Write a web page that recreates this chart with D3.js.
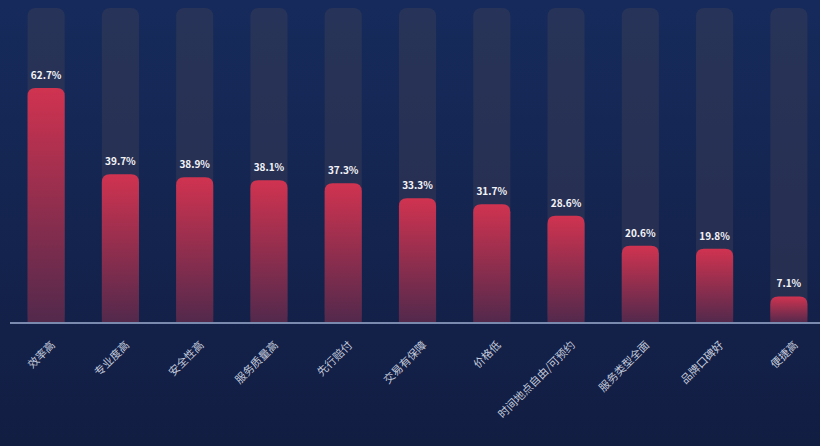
<!DOCTYPE html>
<html><head><meta charset="utf-8">
<script src="https://cdn.jsdelivr.net/npm/d3@7/dist/d3.min.js"></script>
<style>body{margin:0;overflow:hidden;background:#13214a}</style>
</head><body><svg id="c" width="820" height="446"></svg>
<script>
const categories = ["效率高","专业度高","安全性高","服务质量高","先行赔付","交易有保障","价格低","时间地点自由/可预约","服务类型全面","品牌口碑好","便捷高"];
const values = [62.7,39.7,38.9,38.1,37.3,33.3,31.7,28.6,20.6,19.8,7.1];
const bgMax = 84;

const W=820,H=446;
const svg=d3.select("#c");
const defs=svg.append("defs");
const bg=defs.append("linearGradient").attr("id","bg").attr("x1",0).attr("y1",0).attr("x2",0).attr("y2",1);
bg.append("stop").attr("offset","0%").attr("stop-color","#162b5c");
bg.append("stop").attr("offset","100%").attr("stop-color","#121d42");
const rg=defs.append("linearGradient").attr("id","rg").attr("x1",0).attr("y1",0).attr("x2",0).attr("y2",1);
rg.append("stop").attr("offset","0%").attr("stop-color","#d03350");
rg.append("stop").attr("offset","100%").attr("stop-color","#52294c");
svg.append("rect").attr("width",W).attr("height",H).attr("fill","url(#bg)");

const x=d3.scaleBand().domain(categories).range([9,826]).paddingInner(0.5).paddingOuter(0.25);
const y=d3.scaleLinear().domain([0,bgMax]).range([323,8]);

const g=svg.append("g");
g.selectAll(".bgbar").data(categories).join("rect")
 .attr("x",d=>x(d)).attr("width",x.bandwidth())
 .attr("y",y(bgMax)).attr("height",y(0)-y(bgMax))
 .attr("rx",8).attr("fill","#363b55").attr("opacity",0.55);

g.selectAll(".bar").data(values).join("path")
 .attr("fill","url(#rg)")
 .attr("d",(v,i)=>{const x0=x(categories[i]),w=x.bandwidth(),y0=y(v),y1=y(0),r=Math.min(8,(y1-y0));
   return `M${x0},${y1}V${y0+r}Q${x0},${y0} ${x0+r},${y0}H${x0+w-r}Q${x0+w},${y0} ${x0+w},${y0+r}V${y1}Z`;});

g.selectAll(".val").data(values).join("text")
 .attr("x",(v,i)=>x(categories[i])+x.bandwidth()/2)
 .attr("y",v=>y(v)-9)
 .attr("text-anchor","middle")
 .attr("fill","#f4f4f8").attr("font-size",10).attr("font-weight","bold")
 .attr("font-family","'Noto Sans CJK SC',sans-serif")
 .text(v=>v.toFixed(1)+"%");

const axis=d3.axisBottom(x).tickSize(0).tickSizeOuter(0);
const ax=svg.append("g").attr("transform","translate(0,323)").call(axis);
ax.select(".domain").attr("stroke","#7a8aae").attr("stroke-width",2).attr("d","M10,0H820");
ax.selectAll("text")
 .attr("fill","#c2c9da").attr("font-size",11)
 .attr("font-family","'Noto Sans CJK SC',sans-serif")
 .attr("text-anchor","end")
 .attr("transform","translate(7,20) rotate(-45)")
 .attr("dy","0.35em").attr("y",0).attr("x",0);
</script></body></html>
